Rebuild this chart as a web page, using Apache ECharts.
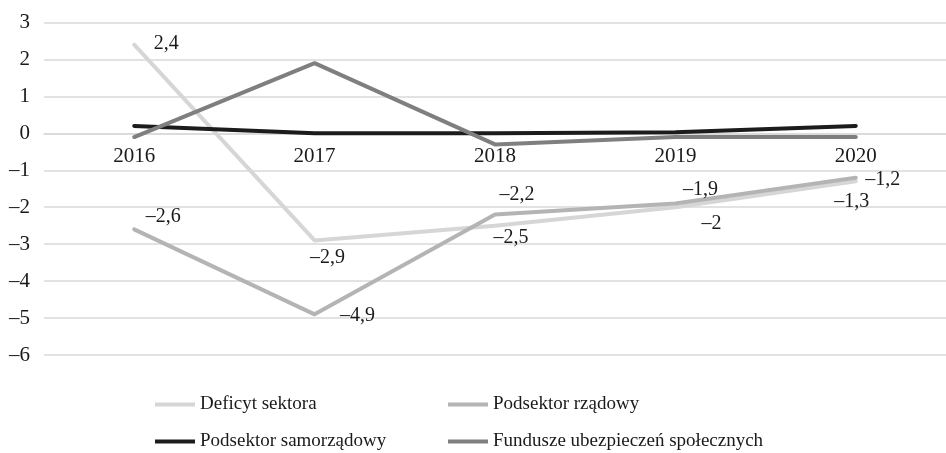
<!DOCTYPE html>
<html>
<head>
<meta charset="utf-8">
<script src="https://cdn.jsdelivr.net/npm/echarts@6/dist/echarts.min.js"></script>
<style>
html,body{margin:0;padding:0;background:#fff;}
#chart{width:946px;height:453px;}
</style>
</head>
<body>
<div id="chart"></div>
<script>
const categories = ['2016', '2017', '2018', '2019', '2020'];
const deficytSektora = [2.4, -2.9, -2.5, -2.0, -1.3];
const podsektorRzadowy = [-2.6, -4.9, -2.2, -1.9, -1.2];
const podsektorSamorzadowy = [0.2, 0.0, 0.0, 0.03, 0.2];
const fundusze = [-0.1, 1.9, -0.3, -0.1, -0.1];
const yTicks = [-6, -5, -4, -3, -2, -1, 0, 1, 2, 3];

const FONT = '"Liberation Serif", "DejaVu Serif", serif';
const fmt = v => String(v).replace('.', ',').replace('-', '\u2013');

// label offsets (style only)
const offDef = [[32, -1], [13, 17], [16, 12], [36, 17], [-4, 20]];
const offRz = [[29, -13], [43, 1], [22, -20], [25, -14], [27, 2]];

function labeled(values, offs) {
  return values.map((v, i) => ({
    value: v,
    label: { show: true, position: 'inside', offset: offs[i] }
  }));
}

const GRID_TOP = 22.5, GRID_BOTTOM = 98, H = 453;
const plotH = H - GRID_TOP - GRID_BOTTOM;
const yMin = yTicks[0], yMax = yTicks[yTicks.length - 1];
const zeroFromBottom = plotH * (0 - yMin) / (yMax - yMin);

const chart = echarts.init(document.getElementById('chart'), null, { renderer: 'canvas' });

const lineBase = (name, color, data, withLabel) => ({
  name: name,
  type: 'line',
  data: data,
  symbol: 'circle',
  symbolSize: 0.1,
  showSymbol: true,
  lineStyle: { color: color, width: 4, cap: 'round', join: 'round' },
  itemStyle: { color: color },
  label: withLabel ? {
    show: true,
    fontFamily: FONT,
    fontSize: 20,
    color: '#1a1a1a',
    formatter: p => fmt(p.value)
  } : { show: false },
  emphasis: { disabled: true },
  animation: false
});

const legendBase = (name, left, top) => ({
  data: [{ name: name, icon: 'rect' }],
  left: left,
  top: top,
  itemWidth: 40,
  itemHeight: 4,
  itemGap: 0,
  textStyle: { fontFamily: FONT, fontSize: 19, color: '#1a1a1a' },
  selectedMode: false
});

chart.setOption({
  animation: false,
  backgroundColor: '#fff',
  grid: { left: 44, top: GRID_TOP, width: 911, bottom: GRID_BOTTOM },
  legend: [
    legendBase('Deficyt sektora', 150, 390),
    legendBase('Podsektor rządowy', 443, 390),
    legendBase('Podsektor samorządowy', 150, 427),
    legendBase('Fundusze ubezpieczeń społecznych', 443, 427)
  ],
  xAxis: {
    type: 'category',
    data: categories,
    boundaryGap: true,
    position: 'bottom',
    offset: -zeroFromBottom,
    axisLine: { show: true, onZero: false, lineStyle: { color: '#d9d9d9', width: 1.5 } },
    axisTick: { show: false },
    axisLabel: { fontFamily: FONT, fontSize: 21, color: '#1a1a1a', margin: 13 },
    splitLine: { show: false }
  },
  yAxis: {
    type: 'value',
    min: yMin,
    max: yMax,
    interval: 1,
    axisLine: { show: false },
    axisTick: { show: false },
    axisLabel: { fontFamily: FONT, fontSize: 21, color: '#1a1a1a', margin: 14, formatter: v => fmt(v) },
    splitLine: { show: true, lineStyle: { color: '#d9d9d9', width: 1.5 } }
  },
  series: [
    lineBase('Deficyt sektora', '#d6d6d6', labeled(deficytSektora, offDef), true),
    lineBase('Podsektor rządowy', '#b4b4b4', labeled(podsektorRzadowy, offRz), true),
    lineBase('Podsektor samorządowy', '#1c1c1c', podsektorSamorzadowy, false),
    lineBase('Fundusze ubezpieczeń społecznych', '#7f7f7f', fundusze, false)
  ]
});
</script>
</body>
</html>
